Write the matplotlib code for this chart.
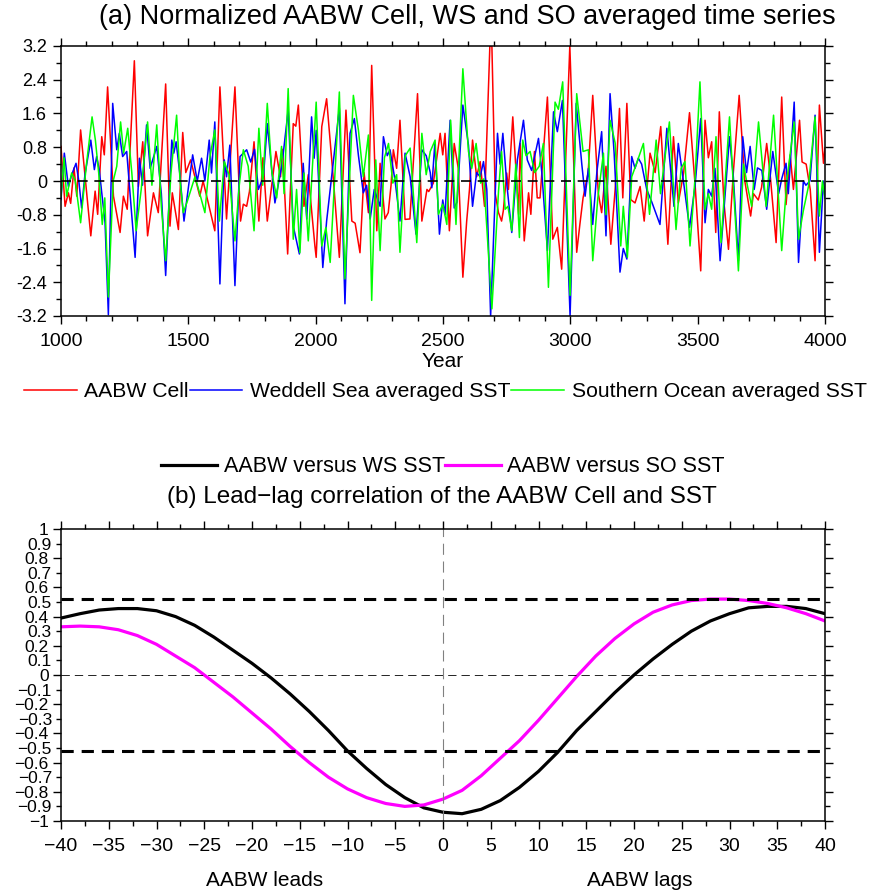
import matplotlib
matplotlib.use("Agg")
import matplotlib.pyplot as plt
from matplotlib.ticker import MultipleLocator, FuncFormatter

plt.rcParams['font.family'] = ['Liberation Sans', 'DejaVu Sans']
plt.rcParams['axes.unicode_minus'] = True

# ---- panel (a): normalized series (turning points) ----
red_year = [1000, 1016, 1029, 1038, 1051, 1062, 1077, 1117, 1134, 1144, 1160, 1170, 1183, 1206, 1232,
            1245, 1260, 1288, 1304, 1321, 1340, 1363, 1382, 1411, 1428, 1437, 1461, 1478, 1490, 1509,
            1545, 1558, 1604, 1624, 1650, 1683, 1705, 1716, 1729, 1740, 1758, 1777, 1793, 1810, 1844,
            1854, 1862, 1870, 1890, 1912, 1922, 1932, 1954, 1971, 1997, 2002, 2024, 2043, 2070, 2093,
            2119, 2142, 2155, 2174, 2190, 2207, 2220, 2240, 2253, 2272, 2285, 2296, 2305, 2318, 2331,
            2351, 2370, 2400, 2417, 2437, 2444, 2462, 2489, 2499, 2508, 2525, 2544, 2560, 2578, 2593,
            2604, 2616, 2632, 2646, 2663, 2684, 2692, 2705, 2718, 2730, 2737, 2750, 2757, 2774, 2797,
            2803, 2819, 2836, 2845, 2859, 2870, 2881, 2910, 2931, 2949, 2966, 2998, 3025, 3038, 3050,
            3070, 3088, 3110, 3123, 3140, 3159, 3176, 3193, 3206, 3222, 3237, 3254, 3274, 3290, 3313,
            3333, 3355, 3383, 3405, 3424, 3445, 3468, 3490, 3512, 3529, 3542, 3555, 3571, 3585, 3603,
            3621, 3640, 3663, 3685, 3708, 3719, 3738, 3751, 3771, 3784, 3808, 3830, 3847, 3863, 3876,
            3900, 3910, 3926, 3942, 3961, 3978, 3994, 4000]
red_val = [0.82, -0.60, -0.28, -0.53, 0.31, -0.36, 1.21, -1.30, -0.24, -0.79, 1.05, 0.62, 2.23, -0.36, -1.22,
           -0.36, -0.67, 2.85, -0.13, 0.93, -1.30, -0.28, -0.75, 2.30, -1.07, -0.28, -1.15, 1.15, 0.20, 0.50,
           -0.36, 0.00, -1.18, 2.23, -0.90, 2.23, -0.95, -0.55, -0.60, -0.25, 0.93, -0.95, 0.55, -0.95, 0.70,
           0.35, 0.10, 0.75, -1.73, 1.36, 1.30, 1.80, -0.60, 0.15, -1.54, -1.81, 1.29, 1.95, 0.00, -1.81,
           1.68, -0.95, -1.00, -1.70, 0.20, -0.75, 2.74, -1.18, 0.42, -0.90, -0.75, -0.10, 0.74, 0.30, 1.44,
           -0.91, -0.90, 2.07, -0.95, -0.20, -0.25, -0.05, 1.13, 0.62, 1.13, -1.18, 0.89, 0.30, -2.28, -0.95,
           -0.20, 0.97, 0.10, 0.46, -0.60, 3.20, 3.20, -0.30, -0.75, -0.95, -0.70, 0.19, -0.20, 1.52, -0.79,
           0.89, -1.42, -0.28, -0.79, 0.70, -0.40, -0.40, 1.99, -1.38, -1.10, -2.09, 3.20, -1.69, -1.00, -0.40,
           0.20, 2.03, -0.30, -0.75, 0.35, -1.50, -0.20, 1.72, -0.40, 1.84, -0.44, -0.52, -0.13, -0.95, 0.66,
           0.20, 1.29, -1.50, 1.05, -0.52, 0.20, 1.62, -0.10, -2.13, 1.44, 0.55, 0.93, -1.22, 1.64, -0.50,
           -1.62, 0.20, 2.03, 0.00, -0.83, -0.30, -0.45, -0.15, 0.89, 0.20, -1.46, 1.99, -0.56, 0.62, -0.20,
           1.44, 0.45, 0.40, -0.20, -1.89, 1.80, 0.42, 0.78]

blue_year = [1000, 1013, 1029, 1042, 1059, 1070, 1081, 1094, 1117, 1131, 1140, 1150, 1162, 1173, 1186,
             1203, 1219, 1229, 1242, 1258, 1275, 1291, 1308, 1320, 1336, 1350, 1376, 1394, 1411, 1435,
             1443, 1452, 1466, 1483, 1517, 1535, 1552, 1565, 1582, 1591, 1604, 1624, 1641, 1650, 1663,
             1683, 1703, 1729, 1745, 1760, 1775, 1795, 1810, 1840, 1868, 1892, 1912, 1936, 1951, 1965,
             1984, 1994, 2002, 2028, 2043, 2093, 2115, 2135, 2152, 2168, 2187, 2200, 2214, 2230, 2253,
             2266, 2281, 2292, 2312, 2331, 2351, 2371, 2394, 2417, 2434, 2450, 2456, 2468, 2486, 2499,
             2508, 2528, 2544, 2555, 2578, 2600, 2616, 2632, 2646, 2659, 2672, 2687, 2714, 2724, 2735,
             2751, 2770, 2792, 2816, 2831, 2848, 2875, 2888, 2910, 2934, 2949, 2969, 2999, 3023, 3045,
             3058, 3071, 3088, 3104, 3123, 3140, 3156, 3172, 3195, 3208, 3222, 3241, 3254, 3267, 3280,
             3300, 3320, 3352, 3379, 3407, 3424, 3444, 3468, 3490, 3512, 3529, 3542, 3555, 3568, 3588,
             3625, 3640, 3660, 3677, 3692, 3706, 3722, 3735, 3752, 3771, 3795, 3818, 3830, 3847, 3856,
             3879, 3896, 3915, 3925, 3941, 3961, 3978, 3994, 4000]
blue_val = [-0.44, 0.66, -0.13, 0.15, 0.42, 0.00, -0.64, 0.15, 0.97, 0.27, 0.58, 0.27, -0.40, -0.99, -3.17,
            1.84, 0.74, 1.13, 0.58, 0.70, -0.60, -1.81, 0.54, -0.10, 1.33, 0.30, 0.82, -0.30, -2.24, 0.97,
            0.66, 0.93, 0.20, -0.95, 0.62, 0.00, 0.54, 0.00, 0.97, 0.19, 1.40, -2.44, 0.50, 0.10, 0.85,
            -2.48, 0.58, 0.74, 0.45, 0.75, -0.20, 0.10, 1.36, -0.52, 0.40, 1.68, -1.07, -1.73, 0.42, -0.90,
            1.52, 0.54, 1.20, -2.05, -0.95, 1.72, -2.91, 1.13, 1.48, 0.60, -0.28, -0.10, -0.90, -0.20, -0.60,
            1.05, 0.60, 0.74, 0.00, -0.95, 0.66, 0.10, -1.26, 0.74, 0.60, 0.20, -0.16, 0.90, -1.26, -0.45,
            -0.80, 1.44, -0.64, -0.50, 1.80, 0.85, -0.60, 0.20, 0.10, 0.46, -0.20, -3.20, 1.13, 0.40, 1.13,
            -0.10, -1.22, 0.50, 1.44, 0.50, 0.25, 1.01, 0.20, -1.65, 1.64, 1.17, 1.91, -3.20, 1.84, 0.40,
            -0.36, 0.30, -1.03, 0.20, 1.17, -1.30, 2.07, 0.66, -2.16, -1.60, -1.85, 0.58, 0.30, 0.54, 0.40,
            -0.20, -0.50, -1.03, 1.25, -0.60, 0.89, 0.00, -1.10, -0.10, 1.48, -0.99, -0.20, -0.36, 0.30, -1.89,
            1.05, 0.10, -1.89, 1.05, 0.20, 0.82, -0.20, 0.31, 0.25, -0.67, 0.70, -0.30, 0.05, 0.42, -0.30,
            1.87, -1.93, 0.00, -0.10, 0.00, 1.56, -1.69, 0.00, -0.40]

green_year = [1000, 1012, 1022, 1042, 1056, 1077, 1100, 1122, 1135, 1148, 1162, 1172, 1186, 1205, 1219,
              1234, 1246, 1262, 1278, 1295, 1315, 1340, 1357, 1376, 1394, 1411, 1432, 1454, 1467, 1480,
              1495, 1526, 1545, 1565, 1585, 1604, 1622, 1641, 1660, 1683, 1700, 1716, 1735, 1758, 1777,
              1792, 1810, 1828, 1847, 1866, 1876, 1892, 1912, 1925, 1938, 1954, 1971, 1985, 2002, 2024,
              2040, 2057, 2093, 2115, 2148, 2168, 2187, 2207, 2220, 2236, 2253, 2270, 2286, 2303, 2318,
              2331, 2352, 2371, 2397, 2417, 2434, 2450, 2469, 2482, 2499, 2515, 2530, 2551, 2578, 2600,
              2613, 2630, 2648, 2660, 2692, 2718, 2730, 2744, 2755, 2770, 2786, 2800, 2813, 2826, 2842,
              2860, 2878, 2894, 2914, 2940, 2953, 2970, 2999, 3025, 3050, 3071, 3088, 3108, 3130, 3140,
              3156, 3176, 3198, 3208, 3224, 3241, 3262, 3287, 3311, 3337, 3354, 3389, 3415, 3435, 3450,
              3470, 3490, 3509, 3529, 3542, 3555, 3572, 3592, 3625, 3640, 3660, 3680, 3695, 3712, 3739,
              3769, 3798, 3830, 3850, 3879, 3896, 3915, 3935, 3961, 3978, 3990, 4000]
green_val = [-0.36, 0.55, -0.36, 0.19, 0.00, -0.99, 0.40, 1.52, 0.97, 0.19, -1.03, -0.40, -2.75, 0.00, 0.35,
             1.40, 0.66, 1.25, 0.20, -1.18, -0.20, 1.40, -0.10, 1.33, -0.60, -1.89, 0.20, 1.56, 0.05, -0.75,
             -0.50, 0.10, -0.30, -0.75, 0.58, 1.21, -0.95, 0.46, 0.15, -1.42, -0.10, 0.74, 0.35, -1.18, 1.25,
             -0.10, 1.84, 0.20, -0.40, 0.82, -0.30, 2.19, -1.38, -0.20, -1.70, 0.19, -1.42, 0.10, 1.87, -1.54,
             -1.10, -1.93, 2.11, -2.32, 2.03, 1.20, 0.10, 1.09, -2.83, 0.50, -1.65, 0.55, 0.89, -0.05, 0.15,
             -1.69, 0.60, 0.78, -1.46, 1.13, 0.15, 0.70, 0.97, -0.79, -0.55, -1.03, 1.44, -1.03, 2.66, 0.70,
             0.30, 0.89, -0.05, 0.05, -3.03, -0.24, 0.70, -0.67, -0.60, -1.18, 0.40, -1.34, 0.97, 0.60, 0.70,
             0.20, 0.35, 0.89, -2.52, 1.87, 1.70, 2.35, -2.71, 2.07, 0.70, 0.74, -1.89, -0.40, 0.66, -0.80,
             1.44, 0.90, -1.54, -0.60, -1.81, 0.10, 0.45, 0.89, -0.79, 0.97, -0.30, 1.40, -1.15, 0.30, 0.46,
             -1.54, 0.10, 2.35, -0.67, -0.30, -0.67, 1.05, -1.46, 1.52, -0.10, -2.13, 0.40, -0.10, -0.60, 1.40,
             -0.60, 1.56, -1.65, 0.00, 1.40, -1.38, -0.70, -0.13, 1.52, -0.83, 0.00, -0.40]

# ---- panel (b): lead-lag correlation ----
lags = [-40, -38, -36, -34, -32, -30, -28, -26, -24, -22, -20, -18, -16, -14, -12, -10, -8, -6, -4, -2, 0,
        2, 4, 6, 8, 10, 12, 14, 16, 18, 20, 22, 24, 26, 28, 30, 32, 34, 36, 38, 40]
corr_ws = [0.39, 0.42, 0.445, 0.455, 0.455, 0.44, 0.40, 0.34, 0.26, 0.17, 0.08, -0.02, -0.13, -0.25, -0.38,
           -0.52, -0.64, -0.75, -0.84, -0.91, -0.94, -0.95, -0.92, -0.86, -0.77, -0.66, -0.53, -0.38, -0.25,
           -0.12, 0.0, 0.11, 0.21, 0.30, 0.37, 0.42, 0.46, 0.47, 0.47, 0.455, 0.42]
corr_so = [0.33, 0.335, 0.33, 0.31, 0.27, 0.21, 0.13, 0.05, -0.05, -0.15, -0.26, -0.37, -0.49, -0.60, -0.70,
           -0.78, -0.84, -0.88, -0.90, -0.89, -0.85, -0.79, -0.69, -0.57, -0.45, -0.31, -0.16, -0.01, 0.13,
           0.25, 0.35, 0.43, 0.48, 0.51, 0.52, 0.52, 0.51, 0.49, 0.46, 0.42, 0.37]
sig_level = 0.52


def fmt_a(v, pos):
    v = round(v, 2)
    if v == 0:
        return '0'
    return '%g' % v


def fmt_b(v, pos):
    v = round(v, 2)
    if v == 0:
        return '0'
    return ('%g' % v).replace('-', '\u2212')


fig = plt.figure(figsize=(8.75, 8.91), dpi=100)
ax1 = fig.add_axes([61/875, 1-316/891, 764/875, 270/891])
ax2 = fig.add_axes([61/875, 1-821/891, 764/875, 292/891])

for ax in (ax1, ax2):
    for s in ax.spines.values():
        s.set_linewidth(1.1)
    ax.tick_params(which='both', direction='out', top=True, right=True, width=1.0)
    ax.tick_params(which='major', length=6)
    ax.tick_params(which='minor', length=3.5)

# panel a
ax1.plot(red_year, red_val, color='#ff0000', lw=1.1, label='AABW Cell')
ax1.plot(blue_year, blue_val, color='#0000ff', lw=1.1, label='Weddell Sea averaged SST')
ax1.plot(green_year, green_val, color='#00ff00', lw=1.1, label='Southern Ocean averaged SST')
ax1.axhline(0, color='black', lw=1.2, ls=(0, (6, 4)))
ax1.set_xlim(1000, 4000)
ax1.set_ylim(-3.2, 3.2)
ax1.xaxis.set_major_locator(MultipleLocator(500))
ax1.xaxis.set_minor_locator(MultipleLocator(100))
ax1.yaxis.set_major_locator(MultipleLocator(0.8))
ax1.yaxis.set_minor_locator(MultipleLocator(0.4))
ax1.yaxis.set_major_formatter(FuncFormatter(fmt_a))
ax1.tick_params(axis='x', labelsize=14, pad=6)
ax1.tick_params(axis='y', labelsize=13, pad=4)
ax1.set_xlabel('Year', fontsize=15, labelpad=2)
fig.text(467/875, 1-17/891, '(a) Normalized AABW Cell, WS and SO averaged time series',
         ha='center', va='center', fontsize=19.5)
ax1.legend(loc='upper center', bbox_to_anchor=(0.503, -0.215), ncol=3, frameon=False, fontsize=15.2,
           handlelength=2.5, handletextpad=0.35, columnspacing=0.05, borderaxespad=0)

# panel b
ax2.plot(lags, corr_ws, color='black', lw=2.3, label='AABW versus WS SST')
ax2.plot(lags, corr_so, color='#ff00ff', lw=2.3, label='AABW versus SO SST')
ax2.axhline(sig_level, color='black', lw=2.2, ls=(0, (4, 2.6)))
ax2.axhline(-sig_level, color='black', lw=2.2, ls=(0, (4, 2.6)))
ax2.axhline(0, color='black', lw=0.6, ls=(0, (10, 6)))
ax2.axvline(0, color='grey', lw=0.8, ls=(0, (10, 6)))
ax2.set_xlim(-40, 40)
ax2.set_ylim(-1, 1)
ax2.xaxis.set_major_locator(MultipleLocator(5))
ax2.xaxis.set_minor_locator(MultipleLocator(2.5))
ax2.xaxis.set_major_formatter(FuncFormatter(fmt_b))
ax2.yaxis.set_major_locator(MultipleLocator(0.2))
ax2.yaxis.set_minor_locator(MultipleLocator(0.1))
ax2.yaxis.set_major_formatter(FuncFormatter(fmt_b))
ax2.yaxis.set_minor_formatter(FuncFormatter(fmt_b))
ax2.tick_params(axis='x', labelsize=14, pad=6)
ax2.tick_params(axis='y', which='both', labelsize=12.5, pad=3)
fig.text(442/875, 1-497/891, '(b) Lead\u2212lag correlation of the AABW Cell and SST',
         ha='center', va='center', fontsize=17.5)
ax2.legend(loc='center', bbox_to_anchor=(0.5, 1 + (529-467)/292), ncol=2, frameon=False, fontsize=15.5,
           handlelength=2.6, handletextpad=0.3, columnspacing=0.0, borderaxespad=0)
fig.text(265/875, 1-881/891, 'AABW leads', ha='center', va='center', fontsize=15)
fig.text(640/875, 1-881/891, 'AABW lags', ha='center', va='center', fontsize=15)

fig.savefig('out.png', dpi=100)
